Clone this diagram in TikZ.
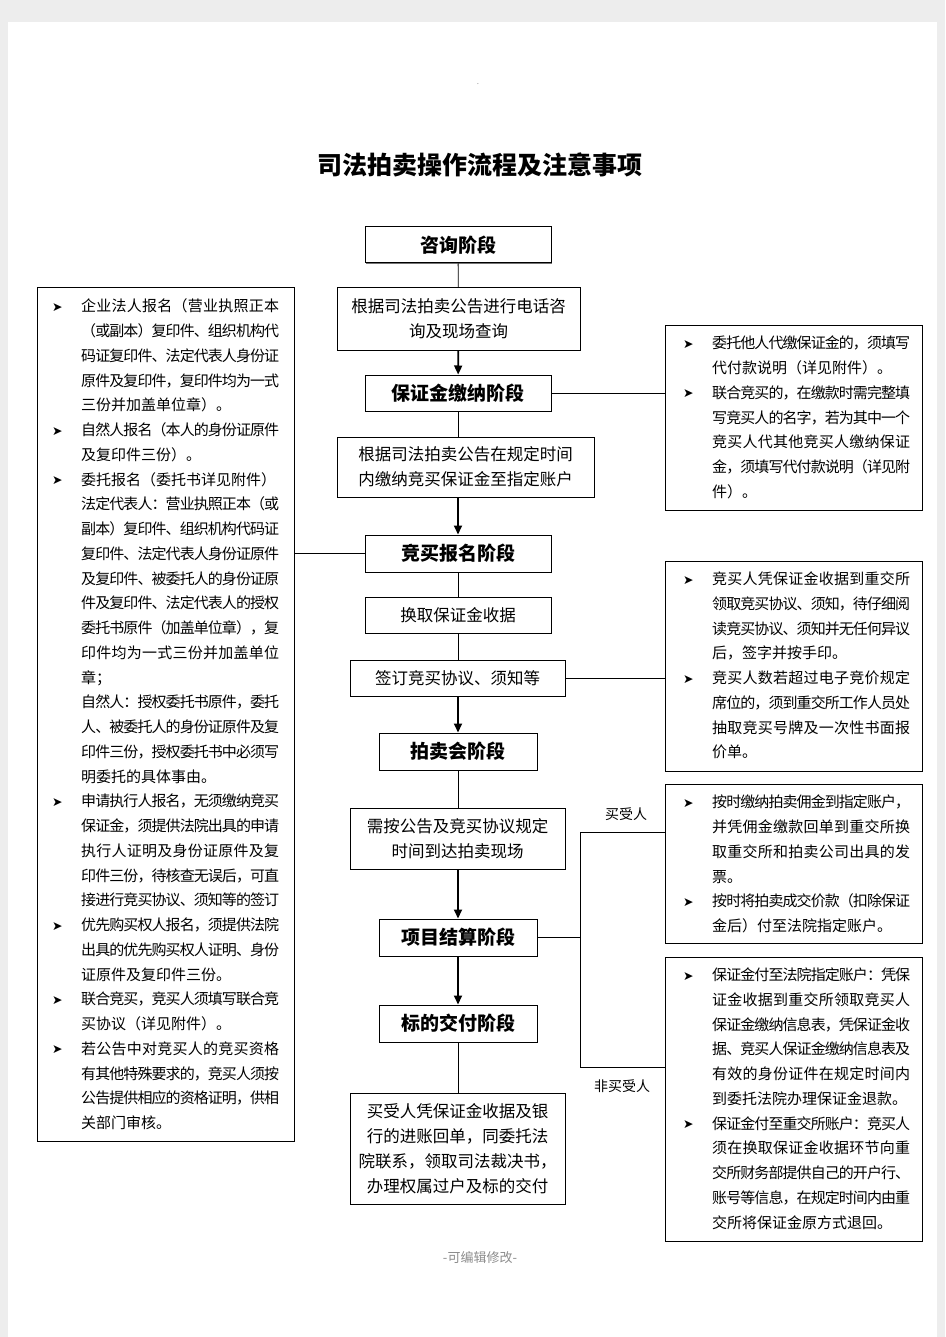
\documentclass[tikz,border=0pt]{standalone}
\usepackage{fontspec}
\setmainfont{Noto Sans CJK SC}
\newfontfamily\dvfont{DejaVu Sans}
\usetikzlibrary{shadows,arrows.meta}
\newdimen\lw \lw=198pt
\ExplSyntaxOn
\NewDocumentCommand\jline{m}{\hbox to \lw{\tl_map_inline:nn{#1}{##1\hskip 0pt plus 1fil minus 1fil}\unskip}}
\ExplSyntaxOff
\newcommand\bumark{\makebox[29pt][l]{\raisebox{0.5pt}{\dvfont\fontsize{12.5}{12}\selectfont ➤}}}
\newcommand\Bfull[1]{\bumark\jline{#1}}
\newcommand\Bshort[1]{\bumark #1}
\newcommand\Cfull[1]{\hspace*{29pt}\jline{#1}}
\newcommand\Cend[1]{\hspace*{29pt}#1}
\tikzset{
  box/.style={draw=black, line width=1pt, fill=white, inner sep=0pt,
    general shadow={fill=black!55, shadow xshift=1.2pt, shadow yshift=-1.2pt}},
  stage/.style={box, font=\bfseries\fontsize{19}{22}\selectfont},
  body/.style={box, align=center, font=\fontsize{16.5}{25}\selectfont},
  note/.style={anchor=west, inner sep=0pt, align=left, font=\fontsize{15}{24.75}\selectfont},
  link/.style={line width=0.8pt},
  flow/.style={line width=1.8pt, -{Triangle[length=9pt,width=8pt]}},
  lab/.style={inner sep=0pt, font=\fontsize{14}{16}\selectfont}
}
\begin{document}
\begin{tikzpicture}[x=1pt,y=-1pt]
\useasboundingbox (0,0) rectangle (945,1337);
\fill[black!7] (0,0) rectangle (945,1337);
\fill[white] (8,22) rectangle (937,1337);
\node[inner sep=0pt, text=black!40, font=\fontsize{8}{8}\selectfont] (hdr) at (478,84) {.};
\node[inner sep=0pt, font=\bfseries\fontsize{25}{28}\selectfont] (title) at (480,165) {司法拍卖操作流程及注意事项};
% centre column
\node[stage, minimum width=186, minimum height=36] (s1) at (458,245) {咨询阶段};
\node[body, minimum width=243, minimum height=62] (b2) at (458.5,319) {根据司法拍卖公告进行电话咨\\询及现场查询};
\node[stage, minimum width=186, minimum height=36] (s2) at (458,393) {保证金缴纳阶段};
\node[body, minimum width=257, minimum height=60] (b4) at (465.5,467) {根据司法拍卖公告在规定时间\\内缴纳竞买保证金至指定账户};
\node[stage, minimum width=186, minimum height=37] (s3) at (458,553.5) {竞买报名阶段};
\node[body, minimum width=186, minimum height=36] (b6) at (458,615) {换取保证金收据};
\node[body, minimum width=215, minimum height=36] (b7) at (457.5,678) {签订竞买协议、须知等};
\node[stage, minimum width=158, minimum height=37] (s4) at (458,751.5) {拍卖会阶段};
\node[body, minimum width=215, minimum height=61] (b9) at (457.5,838.5) {需按公告及竞买协议规定\\时间到达拍卖现场};
\node[stage, minimum width=158, minimum height=37] (s5) at (458,937.5) {项目结算阶段};
\node[stage, minimum width=158, minimum height=37] (s6) at (458,1023.5) {标的交付阶段};
\node[body, minimum width=215, minimum height=111] (b12) at (457.5,1148.5) {买受人凭保证金收据及银\\行的进账回单，同委托法\\院联系，领取司法裁决书，\\办理权属过户及标的交付};
% side boxes
\node[box, minimum width=257, minimum height=853] (L) at (165.5,714.5) {};
\node[box, minimum width=257, minimum height=185] (A) at (793.5,417.5) {};
\node[box, minimum width=257, minimum height=210] (B) at (793.5,666) {};
\node[box, minimum width=257, minimum height=159] (C) at (793.5,863.5) {};
\node[box, minimum width=257, minimum height=284] (D) at (793.5,1099) {};
\node[note] (Lt) at (52,714.5) {%
\Bfull{企业法人报名（营业执照正本}\\
\Cfull{（或副本）复印件、组织机构代}\\
\Cfull{码证复印件、法定代表人身份证}\\
\Cfull{原件及复印件，复印件均为一式}\\
\Cend{三份并加盖单位章）。}\\
\Bfull{自然人报名（本人的身份证原件}\\
\Cend{及复印件三份）。}\\
\Bshort{委托报名（委托书详见附件）}\\
\Cfull{法定代表人：营业执照正本（或}\\
\Cfull{副本）复印件、组织机构代码证}\\
\Cfull{复印件、法定代表人身份证原件}\\
\Cfull{及复印件、被委托人的身份证原}\\
\Cfull{件及复印件、法定代表人的授权}\\
\Cfull{委托书原件（加盖单位章），复}\\
\Cfull{印件均为一式三份并加盖单位}\\
\Cend{章；}\\
\Cfull{自然人：授权委托书原件，委托}\\
\Cfull{人、被委托人的身份证原件及复}\\
\Cfull{印件三份，授权委托书中必须写}\\
\Cend{明委托的具体事由。}\\
\Bfull{申请执行人报名，无须缴纳竞买}\\
\Cfull{保证金，须提供法院出具的申请}\\
\Cfull{执行人证明及身份证原件及复}\\
\Cfull{印件三份，待核查无误后，可直}\\
\Cfull{接进行竞买协议、须知等的签订}\\
\Bfull{优先购买权人报名，须提供法院}\\
\Cfull{出具的优先购买权人证明、身份}\\
\Cend{证原件及复印件三份。}\\
\Bfull{联合竞买，竞买人须填写联合竞}\\
\Cend{买协议（详见附件）。}\\
\Bfull{若公告中对竞买人的竞买资格}\\
\Cfull{有其他特殊要求的，竞买人须按}\\
\Cfull{公告提供相应的资格证明，供相}\\
\Cend{关部门审核。}};
\node[note] (At) at (683,417.5) {%
\Bfull{委托他人代缴保证金的，须填写}\\
\Cend{代付款说明（详见附件）。}\\
\Bfull{联合竞买的，在缴款时需完整填}\\
\Cfull{写竞买人的名字，若为其中一个}\\
\Cfull{竞买人代其他竞买人缴纳保证}\\
\Cfull{金，须填写代付款说明（详见附}\\
\Cend{件）。}};
\node[note] (Bt) at (683,665.5) {%
\Bfull{竞买人凭保证金收据到重交所}\\
\Cfull{领取竞买协议、须知，待仔细阅}\\
\Cfull{读竞买协议、须知并无任何异议}\\
\Cend{后，签字并按手印。}\\
\Bfull{竞买人数若超过电子竞价规定}\\
\Cfull{席位的，须到重交所工作人员处}\\
\Cfull{抽取竞买号牌及一次性书面报}\\
\Cend{价单。}};
\node[note] (Ct) at (683,864) {%
\Bfull{按时缴纳拍卖佣金到指定账户，}\\
\Cfull{并凭佣金缴款回单到重交所换}\\
\Cfull{取重交所和拍卖公司出具的发}\\
\Cend{票。}\\
\Bfull{按时将拍卖成交价款（扣除保证}\\
\Cend{金后）付至法院指定账户。}};
\node[note] (Dt) at (683,1098.5) {%
\Bfull{保证金付至法院指定账户：凭保}\\
\Cfull{证金收据到重交所领取竞买人}\\
\Cfull{保证金缴纳信息表，凭保证金收}\\
\Cfull{据、竞买人保证金缴纳信息表及}\\
\Cfull{有效的身份证件在规定时间内}\\
\Cend{到委托法院办理保证金退款。}\\
\Bfull{保证金付至重交所账户：竞买人}\\
\Cfull{须在换取保证金收据环节向重}\\
\Cfull{交所财务部提供自己的开户行、}\\
\Cfull{账号等信息，在规定时间内由重}\\
\Cend{交所将保证金原方式退回。}};
% connectors
\draw[link] (s1) -- (b2);
\draw[flow] (b2) -- (s2);
\draw[link] (s2.south) -- (s2.south |- b4.north);
\draw[flow] (s2.south |- b4.south) -- (s3.north);
\draw[link] (s3) -- (b6);
\draw[link] (b6) -- (b6.south |- b7.north);
\draw[flow] (b6.south |- b7.south) -- (s4.north);
\draw[link] (s4) -- (s4.south |- b9.north);
\draw[flow] (s4.south |- b9.south) -- (s5.north);
\draw[flow] (s5) -- (s6);
\draw[link] (s6) -- (s6.south |- b12.north);
\draw[link] (s3.west) -- (s3.west -| L.east);
\draw[link] (s2.east) -- (s2.east -| A.west);
\draw[link] (b7.east) -- (b7.east -| B.west);
\coordinate (j) at (580,937.5);
\coordinate (jt) at (580,832);
\coordinate (jb) at (580,1067);
\draw[link] (s5.east) -- (j);
\draw[link] (jt) -- (jb);
\draw[link] (jt) -- (jt -| C.west);
\draw[link] (jb) -- (jb -| D.west);
\node[lab] (buyer) at (626,814) {买受人};
\node[lab] (nonbuyer) at (622,1086) {非买受人};
\node[inner sep=0pt, text=black!45, font=\fontsize{13}{15}\selectfont] (ftr) at (480,1258) {-可编辑修改-};
\end{tikzpicture}
\end{document}
